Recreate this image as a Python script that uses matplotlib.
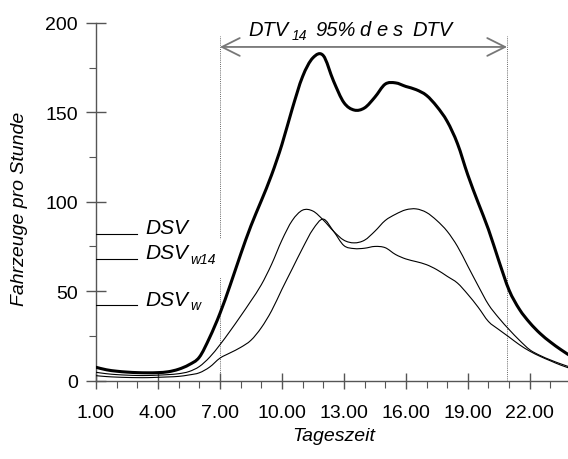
import matplotlib
matplotlib.use("Agg")
import numpy as np
import matplotlib.pyplot as plt
from matplotlib.path import Path
from matplotlib.patches import PathPatch
from matplotlib.ticker import MultipleLocator, FixedLocator

plt.rcParams['font.family'] = ['Liberation Sans', 'DejaVu Sans']

# Stundenwerte (Tageszeit in h)
stunden = [1.0, 1.5, 2.0, 2.5, 3.0, 3.5, 4.0, 4.5, 5.0, 5.5, 6.0, 6.5,
           7.0, 7.5, 8.0, 8.5, 9.0, 9.5, 10.0, 10.5, 11.0, 11.5, 12.0, 12.5,
           13.0, 13.5, 14.0, 14.5, 15.0, 15.5, 16.0, 16.5, 17.0, 17.5, 18.0, 18.5,
           19.0, 19.5, 20.0, 20.5, 21.0, 21.5, 22.0, 22.5, 23.0, 23.5, 24.0]

# Ganglinie des DTV (dicke Linie)
q_dtv = [7.4, 6.0, 5.2, 4.7, 4.4, 4.3, 4.4, 4.9, 6.3, 8.8, 13.0, 24.0,
         37.5, 53.5, 70.5, 86.5, 100.5, 115.0, 132.0, 152.0, 170.0, 180.5, 181.8, 167.5,
         155.5, 151.3, 152.5, 158.5, 165.8, 166.5, 164.5, 162.7, 159.5, 153.3, 145.0, 132.5,
         115.0, 99.5, 84.5, 67.0, 50.5, 39.8, 32.3, 26.3, 21.5, 17.3, 13.5]

# Ganglinie mit Spitzen am Vormittag und Nachmittag
q_kurve_a = [4.6, 3.8, 3.3, 3.0, 2.8, 2.8, 3.0, 3.3, 3.8, 5.0, 7.8, 13.0,
             20.0, 27.8, 36.0, 44.5, 53.5, 65.0, 78.5, 89.5, 95.3, 94.8, 89.8, 83.5,
             78.5, 77.0, 78.5, 83.5, 89.5, 93.0, 95.5, 96.0, 94.0, 89.5, 83.5, 75.0,
             64.0, 53.0, 42.5, 35.0, 28.5, 22.5, 17.2, 14.0, 11.5, 9.3, 7.3]

# Ganglinie mit Mittagsspitze
q_kurve_b = [2.7, 2.2, 1.9, 1.7, 1.6, 1.6, 1.8, 2.0, 2.3, 3.1, 4.3, 7.5,
             12.5, 15.5, 18.5, 22.5, 29.5, 39.0, 51.0, 62.5, 74.0, 84.5, 90.3, 83.5,
             75.5, 73.8, 74.0, 75.0, 74.3, 70.5, 68.0, 66.5, 64.8, 62.0, 58.3, 54.5,
             48.2, 41.0, 33.0, 28.5, 24.3, 20.0, 16.4, 13.5, 11.0, 8.6, 6.6]

# Bemessungsverkehrsstärken
dsv_namen = ["DSV", "DSV", "DSV"]
dsv_index = ["", "w14", "w"]
dsv_werte = [82.0, 68.0, 42.0]

# Zeitraum, in dem 95 % des DTV anfallen
zeitraum = [7.0, 20.9]

x_ticks = [1, 4, 7, 10, 13, 16, 19, 22]
x_labels = ["1.00", "4.00", "7.00", "10.00", "13.00", "16.00", "19.00", "22.00"]
y_ticks = [0, 50, 100, 150, 200]


def glatte_linie(ax, x, y, **kw):
    """Zeichnet eine glatte Kurve (Catmull-Rom als kubische Bezier) durch die Punkte."""
    p = np.column_stack([x, y]).astype(float)
    ext = np.vstack([p[0], p, p[-1]])
    verts = [p[0]]
    codes = [Path.MOVETO]
    for i in range(1, len(ext) - 2):
        p0, p1, p2, p3 = ext[i - 1], ext[i], ext[i + 1], ext[i + 2]
        c1 = p1 + (p2 - p0) / 6.0
        c2 = p2 - (p3 - p1) / 6.0
        verts += [c1, c2, p2]
        codes += [Path.CURVE4] * 3
    patch = PathPatch(Path(verts, codes), fill=False, transform=ax.transData,
                      capstyle='round', joinstyle='round', **kw)
    ax.add_patch(patch)
    return patch


W, H = 568, 460
fig = plt.figure(figsize=(W / 100, H / 100), dpi=100)
ax = fig.add_axes([96 / W, 1 - 381.5 / H, 1 - 96 / W, (381.5 - 24) / H])

glatte_linie(ax, stunden, q_kurve_b, edgecolor='black', lw=0.8, zorder=3)
glatte_linie(ax, stunden, q_kurve_a, edgecolor='black', lw=0.8, zorder=3)
glatte_linie(ax, stunden, q_dtv, edgecolor='black', lw=2.2, zorder=4)

ax.set_xlim(1, 23.85)
ax.set_ylim(0, 200)

# Begrenzung des Zeitraums
ax.vlines(zeitraum, 0, 193, colors='#666666', linestyles=(0, (1, 1.2)), lw=0.7, zorder=1)
ax.annotate("", xy=(zeitraum[0], 186.6), xytext=(zeitraum[1], 186.6),
            arrowprops=dict(arrowstyle='<->', color='#777777', lw=1.3,
                            shrinkA=0, shrinkB=0, mutation_scale=32))
ax.text(8.40, 193.3, "DTV", fontsize=14.5, style='italic', va='baseline')
ax.text(10.48, 190.8, "14", fontsize=10, style='italic', va='baseline')
ax.text(11.60, 193.3, "95%", fontsize=14.5, style='italic', va='baseline')
for buchstabe, xpos in zip("des", [13.76, 14.56, 15.36]):
    ax.text(xpos, 193.3, buchstabe, fontsize=14.5, style='italic', va='baseline')
ax.text(16.30, 193.3, "DTV", fontsize=14.5, style='italic', va='baseline')

# Markierungen der Bemessungsverkehrsstärken
for name, idx, wert in zip(dsv_namen, dsv_index, dsv_werte):
    ax.plot([1, 2.97], [wert, wert], color='black', lw=0.8, zorder=3)
    ax.text(3.37, wert + 0.5, name, fontsize=15, style='italic', va='baseline', zorder=5)
    if idx:
        ax.text(5.55, wert - 2.0, idx, fontsize=10, style='italic', va='baseline', zorder=4,
                bbox=dict(boxstyle='square,pad=0.9', fc='white', ec='none'))

for s in ['top', 'right']:
    ax.spines[s].set_visible(False)
for s in ['left', 'bottom']:
    ax.spines[s].set_color('#555555')
    ax.spines[s].set_linewidth(1.0)

ax.xaxis.set_major_locator(FixedLocator(x_ticks))
ax.set_xticklabels(x_labels)
ax.xaxis.set_minor_locator(MultipleLocator(1))
ax.yaxis.set_major_locator(FixedLocator(y_ticks))
ax.yaxis.set_minor_locator(MultipleLocator(25))

ax.tick_params(axis='x', which='major', direction='inout', length=12, width=1.0,
               color='#555555', labelsize=14, pad=11)
ax.tick_params(axis='x', which='minor', direction='out', length=5, width=0.8, color='#555555')
ax.tick_params(axis='y', which='major', direction='inout', length=14, width=1.0,
               color='#555555', labelsize=14, pad=6)
ax.tick_params(axis='y', which='minor', direction='out', length=5, width=0.8, color='#555555')

fig.text(20 / W, 1 - 209 / H, "Fahrzeuge pro Stunde", rotation=90, fontsize=14,
         style='italic', ha='center', va='center')
fig.text(334 / W, 1 - 437 / H, "Tageszeit", fontsize=14, style='italic',
         ha='center', va='center')

fig.savefig("out.png", dpi=100)
